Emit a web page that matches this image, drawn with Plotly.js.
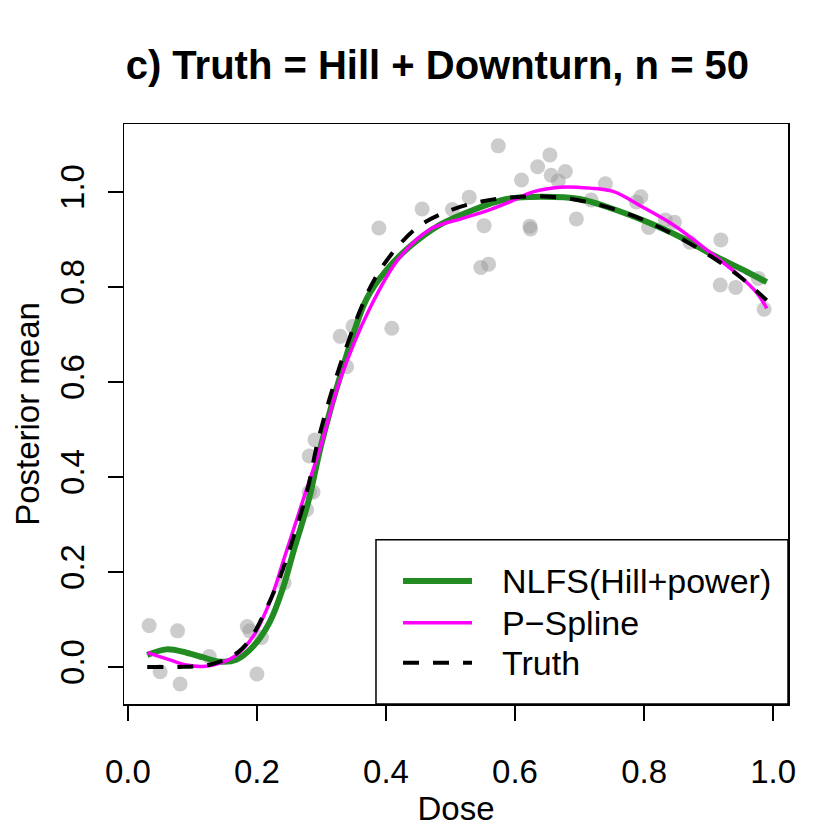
<!DOCTYPE html>
<html>
<head>
<meta charset="utf-8">
<script src="https://cdn.plot.ly/plotly-3.0.1.min.js"></script>
<style>
  body { margin: 0; background: #fff; }
  #chart { width: 830px; height: 830px; }
</style>
</head>
<body>
<div id="chart"></div>
<script>
// observed data (dose, response)
const obsDose = [0.033, 0.050, 0.077, 0.081, 0.126, 0.185, 0.189, 0.200, 0.207, 0.242,
  0.277, 0.281, 0.281, 0.287, 0.290, 0.329, 0.339, 0.349, 0.389, 0.409,
  0.456, 0.503, 0.529, 0.547, 0.552, 0.559, 0.574, 0.610, 0.623, 0.624,
  0.635, 0.654, 0.656, 0.667, 0.678, 0.695, 0.718, 0.740,
  0.788, 0.795, 0.807, 0.833, 0.847, 0.871, 0.918, 0.919, 0.942, 0.977, 0.986];
const obsResp = [0.087, -0.010, 0.076, -0.036, 0.022, 0.085, 0.076, -0.015, 0.062, 0.177,
  0.331, 0.368, 0.444, 0.368, 0.478, 0.696, 0.632, 0.717, 0.924, 0.713,
  0.964, 0.963, 0.989, 0.841, 0.929, 0.848, 1.097, 1.025, 0.928, 0.922,
  1.053, 1.078, 1.035, 1.023, 1.043, 0.943, 0.983, 1.017,
  0.979, 0.990, 0.925, 0.941, 0.936, 0.894, 0.804, 0.899, 0.799, 0.818, 0.753];

// NLFS (Hill + power) posterior mean
const nlfsX = [0.03, 0.06, 0.091, 0.117, 0.143, 0.168, 0.194, 0.22, 0.241, 0.256, 0.28, 0.30,
  0.329, 0.37, 0.401, 0.437, 0.484, 0.535, 0.587, 0.639, 0.70, 0.752, 0.804, 0.856, 0.907, 0.959, 0.99];
const nlfsY = [0.025, 0.037, 0.030, 0.020, 0.011, 0.015, 0.043, 0.095, 0.169, 0.240, 0.35, 0.47,
  0.612, 0.775, 0.836, 0.885, 0.931, 0.962, 0.985, 0.990, 0.985, 0.964, 0.937, 0.905, 0.867, 0.832, 0.810];

// P-Spline posterior mean
const psX = [0.03, 0.065, 0.091, 0.117, 0.143, 0.168, 0.194, 0.22, 0.243, 0.27, 0.30, 0.329,
  0.375, 0.42, 0.468, 0.52, 0.556, 0.592, 0.628, 0.67, 0.716, 0.752, 0.794, 0.845, 0.897, 0.949, 0.975, 0.99];
const psY = [0.03, 0.015, 0.004, 0.001, 0.008, 0.025, 0.064, 0.137, 0.232, 0.345, 0.47, 0.605,
  0.755, 0.86, 0.921, 0.945, 0.96, 0.979, 1.000, 1.010, 1.008, 1.001, 0.971, 0.931, 0.878, 0.822, 0.787, 0.755];

// true curve
const truthX = [0.03, 0.08, 0.12, 0.143, 0.17, 0.192, 0.215, 0.236, 0.254, 0.277, 0.295, 0.324,
  0.36, 0.383, 0.414, 0.45, 0.495, 0.548, 0.60, 0.654, 0.708, 0.76, 0.809, 0.858, 0.904, 0.948, 0.99];
const truthY = [0.0, 0.0, 0.003, 0.011, 0.030, 0.064, 0.124, 0.190, 0.262, 0.366, 0.478, 0.615,
  0.751, 0.818, 0.878, 0.927, 0.959, 0.980, 0.989, 0.990, 0.980, 0.961, 0.935, 0.901, 0.864, 0.822, 0.772];

const tickVals = [0, 0.2, 0.4, 0.6, 0.8, 1.0];
const tickText = ['0.0', '0.2', '0.4', '0.6', '0.8', '1.0'];
const legendLabels = ['NLFS(Hill+power)', 'P\u2212Spline', 'Truth'];

const FONT = '"Liberation Sans", Arial, Helvetica, sans-serif';
const GREEN = '#228B22';
const MAGENTA = '#FF00FF';

const traces = [
  {
    x: obsDose, y: obsResp, mode: 'markers', type: 'scatter',
    marker: { color: 'rgba(153,153,153,0.5)', size: 15, line: { width: 0 } },
    hoverinfo: 'skip'
  },
  {
    x: nlfsX, y: nlfsY, mode: 'lines', type: 'scatter',
    line: { color: GREEN, width: 6, shape: 'spline', smoothing: 1 }
  },
  {
    x: psX, y: psY, mode: 'lines', type: 'scatter',
    line: { color: MAGENTA, width: 3.5, shape: 'spline', smoothing: 1 }
  },
  {
    x: truthX, y: truthY, mode: 'lines', type: 'scatter',
    line: { color: '#000', width: 4, dash: '16px,14px', shape: 'spline', smoothing: 1 }
  }
];

// hand-built legend box in the lower right, like base R legend()
const legBox = { x0: 0.3795, x1: 1.0, y0: 0.0, y1: 0.283 };
const legRows = [0.212, 0.140, 0.071];
const legStyles = [
  { color: GREEN, width: 6 },
  { color: MAGENTA, width: 3.5 },
  { color: '#000', width: 4, dash: '16px,14px' }
];

const shapes = [{
  type: 'rect', xref: 'paper', yref: 'paper',
  x0: legBox.x0, x1: legBox.x1, y0: legBox.y0, y1: legBox.y1,
  line: { color: '#000', width: 1.5 }, fillcolor: '#fff', layer: 'above'
}];
const annotations = [];
legendLabels.forEach((lab, i) => {
  shapes.push({
    type: 'line', xref: 'paper', yref: 'paper',
    x0: 0.4202, x1: 0.5241, y0: legRows[i], y1: legRows[i],
    line: legStyles[i], layer: 'above'
  });
  annotations.push({
    xref: 'paper', yref: 'paper', x: 0.5663, y: legRows[i],
    xanchor: 'left', yanchor: 'middle', text: lab, showarrow: false,
    font: { family: FONT, size: 34, color: '#000' }
  });
});

const axisCommon = {
  showgrid: false, zeroline: false,
  showline: true, mirror: true, linecolor: '#000', linewidth: 1.5,
  ticks: 'outside', ticklen: 15, tickwidth: 1.5, tickcolor: '#000',
  tickvals: tickVals, ticktext: tickText,
  tickfont: { family: FONT, size: 33, color: '#000' }
};

const layout = {
  width: 830, height: 830,
  margin: { l: 124, r: 42, t: 124, b: 126 },
  paper_bgcolor: '#fff', plot_bgcolor: '#fff',
  showlegend: false,
  font: { family: FONT, color: '#000' },
  title: {
    text: '<b>c) Truth = Hill + Downturn, n = 50</b>',
    font: { family: FONT, size: 40, color: '#000' },
    xref: 'container', yref: 'container', x: 0.527, y: 0.922,
    xanchor: 'center', yanchor: 'middle'
  },
  xaxis: Object.assign({}, axisCommon, {
    range: [-0.006, 1.023], ticklabelstandoff: 23,
    title: { text: 'Dose', font: { family: FONT, size: 33 }, standoff: 4 }
  }),
  yaxis: Object.assign({}, axisCommon, {
    range: [-0.078, 1.143], tickangle: -90, ticklabelstandoff: 10,
    title: { text: 'Posterior mean', font: { family: FONT, size: 33 }, standoff: 4 }
  }),
  shapes: shapes,
  annotations: annotations
};

Plotly.newPlot('chart', traces, layout, { displayModeBar: false, staticPlot: true });
</script>
</body>
</html>
